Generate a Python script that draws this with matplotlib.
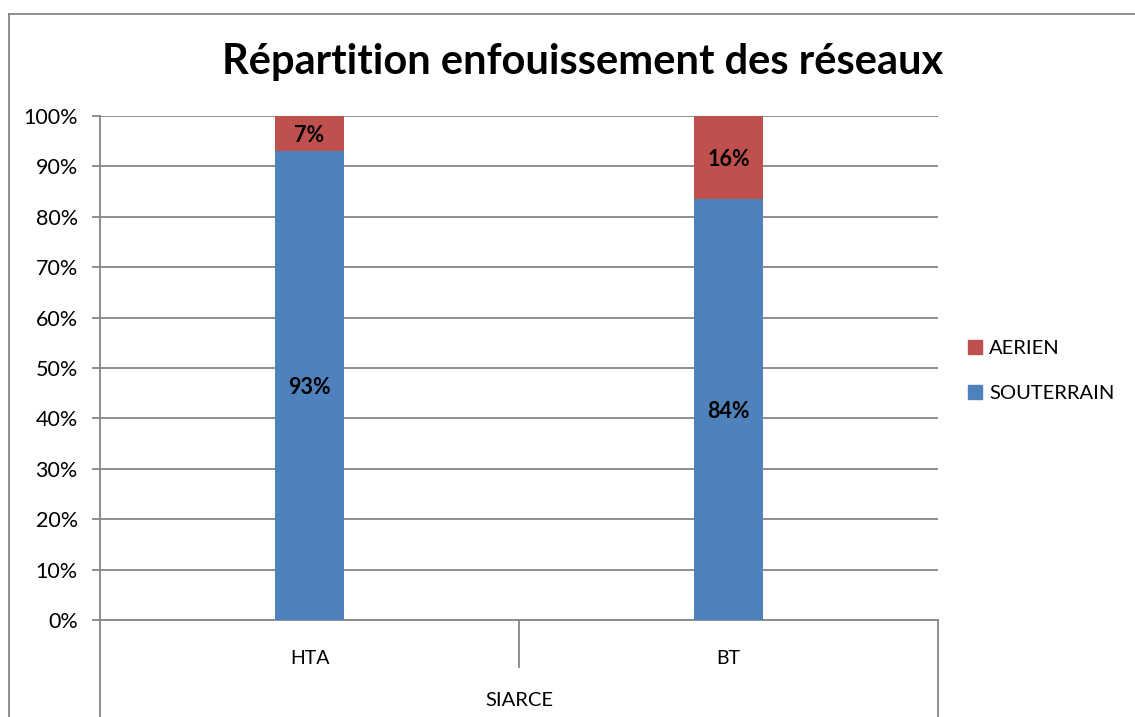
import matplotlib
matplotlib.use("Agg")
import matplotlib.pyplot as plt
from matplotlib.patches import Patch
from matplotlib.lines import Line2D

plt.rcParams['font.family'] = ['Lato', 'DejaVu Sans']

categories = ["HTA", "BT"]
group_label = "SIARCE"
souterrain = [93, 83.5]
aerien = [7, 16.5]
series_names = ["SOUTERRAIN", "AERIEN"]
yticks = [0, 10, 20, 30, 40, 50, 60, 70, 80, 90, 100]
title = "Répartition enfouissement des réseaux"

BLUE = "#4F81BD"
RED = "#C0504D"
GRID = "#868686"

W, H = 1135, 717
fig = plt.figure(figsize=(W / 100, H / 100), dpi=100)

# outer chart border
fig.add_artist(Line2D([9 / W, 1.0], [1 - 14 / H, 1 - 14 / H], color=GRID, lw=1.3, transform=fig.transFigure))
fig.add_artist(Line2D([9 / W, 9 / W], [1 - 14 / H, 0.0], color=GRID, lw=1.3, transform=fig.transFigure))

L, R, T, B = 100, 938, 116, 620
ax = fig.add_axes([L / W, 1 - B / H, (R - L) / W, (B - T) / H])

x = list(range(len(categories)))
bw = 0.165
ax.bar(x, souterrain, width=bw, color=BLUE, zorder=3, label=series_names[0])
ax.bar(x, aerien, width=bw, bottom=souterrain, color=RED, zorder=3, label=series_names[1])

for i in x:
    ax.text(i, souterrain[i] / 2, f"{souterrain[i]:.0f}%", ha="center", va="center_baseline",
            fontsize=15.5, fontweight="bold", color="black", zorder=4)
    ax.text(i, souterrain[i] + aerien[i] / 2, f"{aerien[i]:.0f}%", ha="center", va="center_baseline",
            fontsize=15.5, fontweight="bold", color="black", zorder=4)

ax.set_xlim(-0.5, len(categories) - 0.5)
ax.set_ylim(0, 100)
ax.set_yticks(yticks)
ax.set_yticklabels([f"{v}%" for v in yticks], fontsize=15.5)
ax.yaxis.grid(True, color=GRID, lw=1.3, zorder=0)
ax.tick_params(axis="y", length=6, color=GRID, width=1.3, pad=10)
ax.set_xticks([])
for s in ["top", "right"]:
    ax.spines[s].set_visible(False)
for s in ["left", "bottom"]:
    ax.spines[s].set_color(GRID)
    ax.spines[s].set_linewidth(1.3)

# multi-level category axis
tr = ax.get_xaxis_transform()
ph = B - T
y_mid = -(667 - B) / ph
y_bot = -(H - B) / ph - 0.01
ax.plot([-0.5, -0.5], [0, y_bot], color=GRID, lw=1.3, transform=tr, clip_on=False)
ax.plot([len(categories) - 0.5] * 2, [0, y_bot], color=GRID, lw=1.3, transform=tr, clip_on=False)
for k in range(1, len(categories)):
    ax.plot([k - 0.5] * 2, [0, y_mid], color=GRID, lw=1.3, transform=tr, clip_on=False)
for i, c in enumerate(categories):
    ax.text(i, -(658 - B) / ph, c, transform=tr, ha="center", va="center", fontsize=14)
ax.text((len(categories) - 1) / 2, -(701 - B) / ph, group_label, transform=tr,
        ha="center", va="center", fontsize=14.5)

fig.text(583 / W, 1 - 62 / H, title, ha="center", va="center", fontsize=30, fontweight="bold")

handles = [Patch(color=RED), Patch(color=BLUE)]
fig.legend(handles, [series_names[1], series_names[0]], loc="center left",
           bbox_to_anchor=(950 / W, 1 - 371 / H), frameon=False, fontsize=14.5,
           handlelength=0.7, handleheight=0.7, labelspacing=1.4, handletextpad=0.35)

fig.savefig("out.png", dpi=100)
